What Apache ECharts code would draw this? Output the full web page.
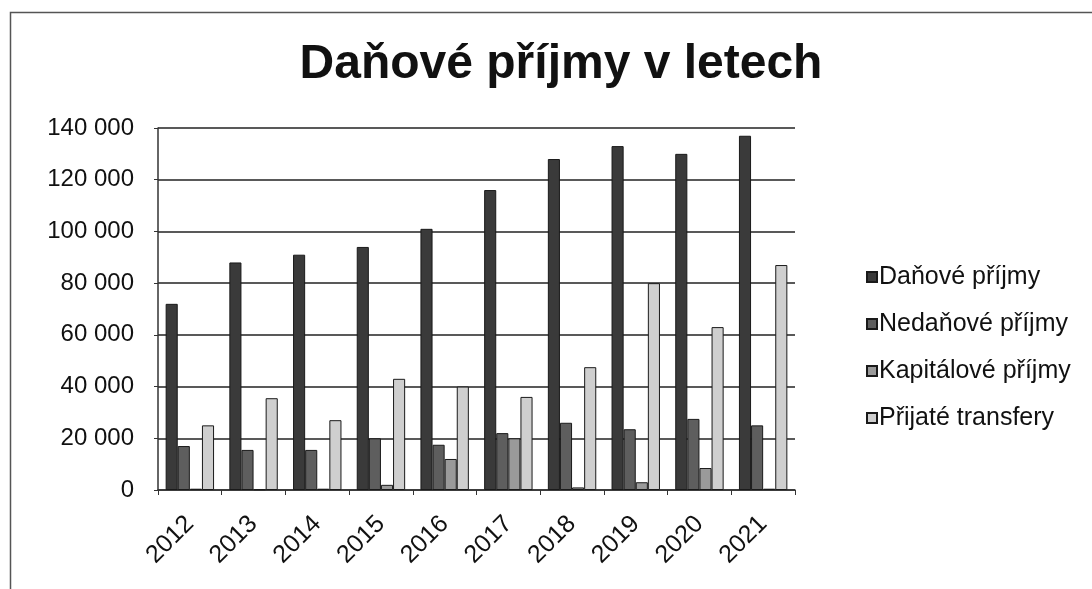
<!DOCTYPE html>
<html>
<head>
<meta charset="utf-8">
<script src="https://cdn.jsdelivr.net/npm/echarts@6/dist/echarts.min.js"></script>
<style>
html,body{margin:0;padding:0;background:#fff;}
#c{width:1092px;height:589px;}
</style>
</head>
<body>
<div id="c"></div>
<script>
const years = ['2012','2013','2014','2015','2016','2017','2018','2019','2020','2021'];
const danove = [72000, 88000, 91000, 94000, 101000, 116000, 128000, 133000, 130000, 137000];
const nedanove = [17000, 15500, 15500, 20000, 17500, 22000, 26000, 23500, 27500, 25000];
const kapitalove = [500, 300, 500, 2000, 12000, 20000, 1000, 3000, 8500, 500];
const prijate = [25000, 35500, 27000, 43000, 40000, 36000, 47500, 80000, 63000, 87000];
const seriesNames = ['Daňové příjmy','Nedaňové příjmy','Kapitálové příjmy','Přijaté transfery'];
const seriesColors = ['#3a3a3a','#5e5e5e','#9a9a9a','#cfcfcf'];
const seriesData = [danove, nedanove, kapitalove, prijate];

const chart = echarts.init(document.getElementById('c'));
const font = 'Liberation Sans, Arial, sans-serif';
chart.setOption({
  animation:false,
  backgroundColor:'#ffffff',
  title:{
    text:'Daňové příjmy v letech',
    left:556, top:36, textAlign:'center',
    textStyle:{fontFamily:font,fontWeight:'bold',fontSize:48,color:'#111'}
  },
  legend:{
    orient:'vertical', left:861, top:259,
    itemWidth:10, itemHeight:10, itemGap:21,
    icon:'rect',
    textStyle:{fontFamily:font,fontSize:25,lineHeight:26,color:'#111',padding:[0,0,0,-3]},
    data:seriesNames
  },
  grid:{left:158, right:297, top:128, bottom:99},
  xAxis:{
    type:'category', data:years,
    axisLine:{show:true,lineStyle:{color:'#333',width:1.5}},
    axisTick:{show:true,length:5,lineStyle:{color:'#333'}},
    axisLabel:{rotate:45,fontFamily:font,fontSize:25,color:'#111',margin:30}
  },
  yAxis:{
    type:'value', min:0, max:140000, interval:20000,
    axisLine:{show:true,lineStyle:{color:'#333',width:1.5}},
    axisTick:{show:true,length:4,lineStyle:{color:'#333'}},
    splitLine:{lineStyle:{color:'#222',width:1.5}},
    axisLabel:{fontFamily:font,fontSize:24,color:'#111',margin:24,
      formatter:v=>String(v).replace(/\B(?=(\d{3})+(?!\d))/g,' ')}
  },
  series: seriesNames.map((n,i)=>({
    name:n, type:'bar', data:seriesData[i],
    barGap:'0%', barCategoryGap:'24%',
    itemStyle:{color:seriesColors[i],borderColor:'#1a1a1a',borderWidth:1}
  })),
  graphic:[{
    type:'rect', left:8, top:10, shape:{width:1100,height:600},
    style:{fill:'none',stroke:'#555',lineWidth:1.5}, silent:true
  }]
});
</script>
</body>
</html>
